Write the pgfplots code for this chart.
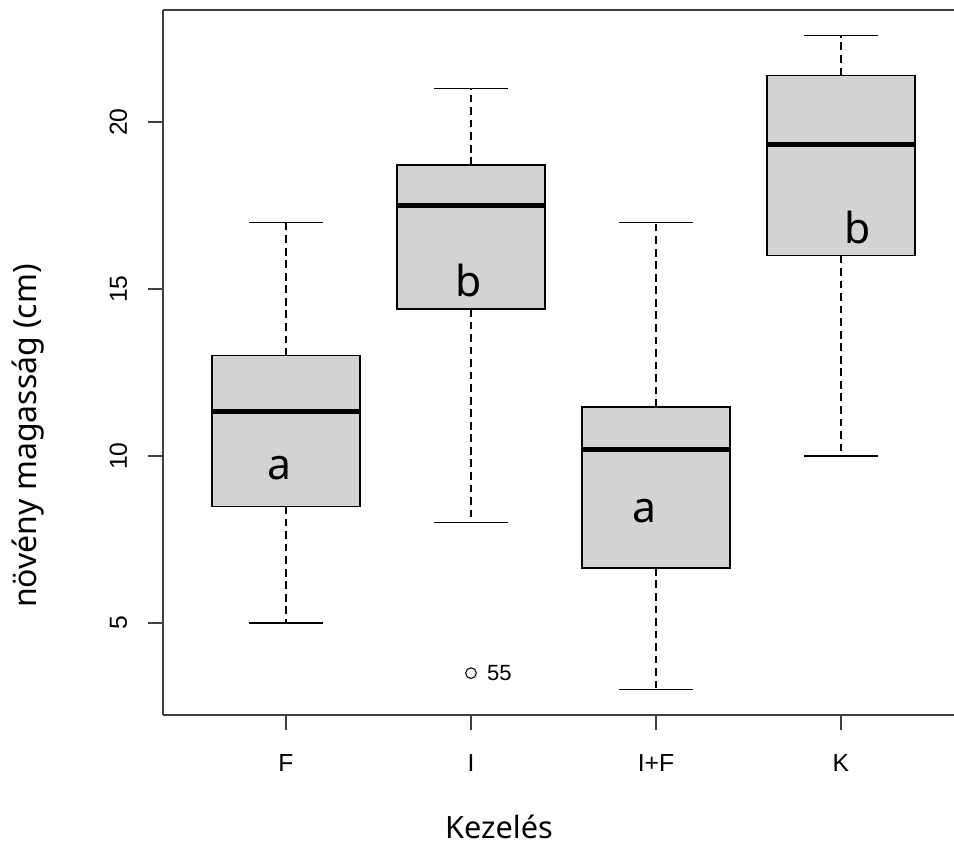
\documentclass[border=0pt]{standalone}
\usepackage{fontspec}
\setmainfont{Liberation Sans}
\newfontfamily\labelfont{Noto Sans}
\usepackage{pgfplots}
\pgfplotsset{compat=1.18}
\usepgfplotslibrary{statistics}
\definecolor{boxgray}{RGB}{211,211,211}
\begin{document}
\begin{tikzpicture}[x=1pt,y=1pt]
\useasboundingbox (0,0) rectangle (715.5,-634.5);
\begin{axis}[
  at={(122.25pt,-7.5pt)}, anchor=north west,
  scale only axis, width=593.25pt, height=528.75pt,
  xmin=0.3351, xmax=4.611, ymin=2.246, ymax=23.353,
  clip=false,
  axis x line*=bottom, axis y line*=left,
  axis line style={black!75, line width=1pt},
  tick style={black!75, line width=1pt},
  tick align=outside, major tick length=11.25pt,
  xtick={1,2,3,4}, xticklabels={F,I,I+F,K},
  ytick={5,10,15,20},
  /pgf/number format/assume math mode=true,
  ticklabel style={font=\fontsize{18.5}{20}\selectfont, inner sep=0pt, black},
  xticklabel style={anchor=base},
  yticklabel style={rotate=90, anchor=base},
  xticklabel shift=30.75pt, yticklabel shift=15.75pt,
  xlabel={Kezelés}, ylabel={növény magasság (cm)},
  every axis x label/.style={at={(axis description cs:0.4248,0)}, yshift=-92.25pt, anchor=base, inner sep=0pt, font=\labelfont\fontsize{23}{26}\selectfont},
  every axis y label/.style={at={([xshift=-94.5pt]axis description cs:0,0.3957)}, rotate=90, anchor=base, inner sep=0pt, font=\labelfont\fontsize{24}{26}\selectfont},
  boxplot/draw direction=y,
  boxplot/box extend=0.8,
  boxplot/whisker extend=0.4,
  boxplot/every box/.style={draw=black, fill=boxgray, line width=0.9pt},
  boxplot/every whisker/.style={black, line width=0.8pt},
  boxplot/every median/.style={black, line width=3.8pt},
  boxplot/draw/lower whisker/.code={%
    \draw[/pgfplots/boxplot/every whisker, dash pattern=on 5.8pt off 3.6pt]
      (boxplot box cs:\pgfplotsboxplotvalue{lower quartile},0.5) --
      (boxplot box cs:\pgfplotsboxplotvalue{lower whisker},0.5);
    \draw[/pgfplots/boxplot/every whisker]
      (boxplot whisker cs:\pgfplotsboxplotvalue{lower whisker},0) --
      (boxplot whisker cs:\pgfplotsboxplotvalue{lower whisker},1);
  },
  boxplot/draw/upper whisker/.code={%
    \draw[/pgfplots/boxplot/every whisker, dash pattern=on 5.8pt off 3.6pt]
      (boxplot box cs:\pgfplotsboxplotvalue{upper quartile},0.5) --
      (boxplot box cs:\pgfplotsboxplotvalue{upper whisker},0.5);
    \draw[/pgfplots/boxplot/every whisker]
      (boxplot whisker cs:\pgfplotsboxplotvalue{upper whisker},0) --
      (boxplot whisker cs:\pgfplotsboxplotvalue{upper whisker},1);
  },
]
% F
\addplot[black, mark=o, mark size=4pt, mark options={solid, line width=0.8pt},
  boxplot prepared={draw position=1, lower whisker=5, lower quartile=8.5,
  median=11.32, upper quartile=13, upper whisker=17}] coordinates {};
% I
\addplot[black, mark=o, mark size=4pt, mark options={solid, line width=0.8pt},
  boxplot prepared={draw position=2, lower whisker=8, lower quartile=14.4,
  median=17.49, upper quartile=18.71, upper whisker=21}]
  table[row sep=\\, y index=0] {data\\ 3.5\\};
% I+F
\addplot[black, mark=o, mark size=4pt, mark options={solid, line width=0.8pt},
  boxplot prepared={draw position=3, lower whisker=3, lower quartile=6.65,
  median=10.2, upper quartile=11.47, upper whisker=17}] coordinates {};
% K
\addplot[black, mark=o, mark size=4pt, mark options={solid, line width=0.8pt},
  boxplot prepared={draw position=4, lower whisker=10, lower quartile=16,
  median=19.34, upper quartile=21.4, upper whisker=22.6}] coordinates {};
% group letters
\addplot[draw=none, mark=none, nodes near coords, point meta=explicit symbolic,
  nodes near coords align={center},
  every node near coord/.append style={anchor=center, inner sep=0pt, black,
    font=\labelfont\fontsize{32}{36}\selectfont}]
  coordinates {(0.962,9.64)[a] (1.986,15.24)[b] (2.94,8.34)[a] (4.092,16.83)[b]};
% outlier label
\addplot[draw=none, mark=none, nodes near coords, point meta=explicit symbolic,
  nodes near coords align={west},
  every node near coord/.append style={anchor=west, inner sep=0pt, black,
    font=\fontsize{16.5}{18}\selectfont}]
  coordinates {(2.086,3.5)[55]};
\draw[black!75, line width=1pt] (rel axis cs:0,1) -- (rel axis cs:1,1);
\end{axis}
\end{tikzpicture}
\end{document}
